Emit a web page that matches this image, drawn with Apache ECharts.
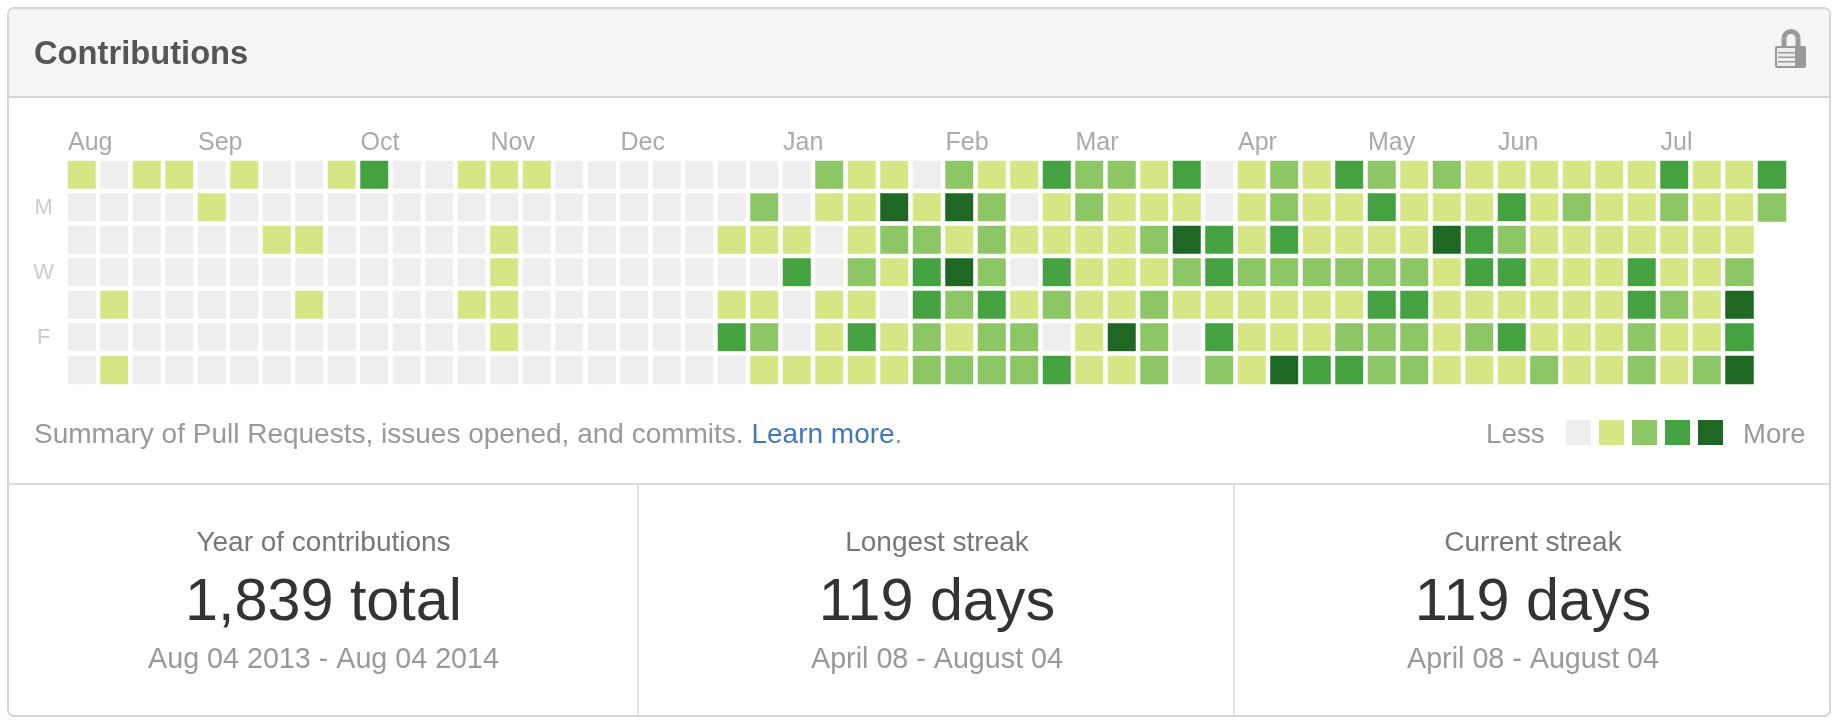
<!DOCTYPE html>
<html>
<head>
<meta charset="utf-8">
<title>Contributions</title>
<script src="https://cdn.jsdelivr.net/npm/echarts@6/dist/echarts.min.js"></script>
<style>
	html, body { margin: 0; background: #fff; }
	#main { width: 1839px; height: 728px; }
</style>
</head>
<body>
<div id="main"></div>
<script type="text/javascript">
// contribution level (0-4), one array per weekday, one entry per week
var sun = [1,0,1,1,0,1,0,0,1,3,0,0,1,1,1,0,0,0,0,0,0,0,0,2,1,1,0,2,1,1,3,2,2,1,3,0,1,2,1,3,2,1,2,1,1,1,1,1,1,3,1,1,3];
var mon = [0,0,0,0,1,0,0,0,0,0,0,0,0,0,0,0,0,0,0,0,0,2,0,1,1,4,1,4,2,0,1,2,1,1,1,0,1,2,1,1,3,1,1,1,3,1,2,1,1,2,1,1,2];
var tue = [0,0,0,0,0,0,1,1,0,0,0,0,0,1,0,0,0,0,0,0,1,1,1,0,1,2,2,1,2,1,1,1,1,2,4,3,1,3,1,1,1,1,4,3,2,1,1,1,1,1,1,1];
var wed = [0,0,0,0,0,0,0,0,0,0,0,0,0,1,0,0,0,0,0,0,0,0,3,0,2,1,3,4,2,0,3,1,1,1,2,3,2,2,2,2,2,2,1,3,3,1,1,1,3,1,1,2];
var thu = [0,1,0,0,0,0,0,1,0,0,0,0,1,1,0,0,0,0,0,0,1,1,0,1,1,0,3,2,3,1,2,1,1,2,1,1,1,1,1,1,3,3,1,1,1,1,1,1,3,2,1,4];
var fri = [0,0,0,0,0,0,0,0,0,0,0,0,0,1,0,0,0,0,0,0,3,2,0,1,3,1,2,1,2,2,0,1,4,2,0,3,1,1,1,2,2,2,1,2,3,1,1,1,2,1,1,3];
var sat = [0,1,0,0,0,0,0,0,0,0,0,0,0,0,0,0,0,0,0,0,0,1,1,1,1,1,2,2,2,2,3,1,1,2,0,2,1,4,3,3,2,2,1,1,1,2,1,1,2,1,2,4];
var weekdays = [sun, mon, tue, wed, thu, fri, sat];

var dayLabels = ['', 'M', '', 'W', '', 'F', ''];
var months = ['Aug','Sep','Oct','Nov','Dec','Jan','Feb','Mar','Apr','May','Jun','Jul'];
var monthWeeks = [0, 4, 9, 13, 17, 22, 27, 31, 36, 40, 44, 49];
var levelColors = ['#eeeeee', '#d6e685', '#8cc665', '#44a340', '#1e6823'];

var statLabels = ['Year of contributions', 'Longest streak', 'Current streak'];
var statValues = ['1,839 total', '119 days', '119 days'];
var statRanges = ['Aug 04 2013 - Aug 04 2014', 'April 08 - August 04', 'April 08 - August 04'];
var statCenters = [323.5, 937, 1533];

var FONT = '"Liberation Sans", Arial, sans-serif';

var weekLabels = [];
for (var w = 0; w < sun.length; w++) {
	var m = monthWeeks.indexOf(w);
	weekLabels.push(m >= 0 ? months[m] : '');
}

var cells = [];
weekdays.forEach(function (row, d) {
	row.forEach(function (level, w) {
		cells.push([w, d, level]);
	});
});

function text(x, y, str, size, color, align, weight) {
	return {
		type: 'text', z: 10,
		style: {
			x: x, y: y, text: str, fill: color,
			font: (weight || 'normal') + ' ' + size + 'px ' + FONT,
			textAlign: align || 'center', textVerticalAlign: 'middle'
		}
	};
}

var graphics = [
	// card
	{ type: 'rect', z: -2, shape: { x: 8, y: 8, width: 1822, height: 708, r: 6 }, style: { fill: '#fff', stroke: '#d5d5d5', lineWidth: 2 } },
	{ type: 'rect', z: -1, shape: { x: 9, y: 9, width: 1820, height: 88, r: [5, 5, 0, 0] }, style: { fill: '#f5f5f5' } },
	{ type: 'line', z: -1, shape: { x1: 8, y1: 97, x2: 1830, y2: 97 }, style: { stroke: '#d5d5d5', lineWidth: 2 } },
	{ type: 'line', z: -1, shape: { x1: 8, y1: 484, x2: 1830, y2: 484 }, style: { stroke: '#dddddd', lineWidth: 2 } },
	{ type: 'line', z: -1, shape: { x1: 638, y1: 484, x2: 638, y2: 716 }, style: { stroke: '#dddddd', lineWidth: 1.5 } },
	{ type: 'line', z: -1, shape: { x1: 1234, y1: 484, x2: 1234, y2: 716 }, style: { stroke: '#dddddd', lineWidth: 1.5 } },
	// lock
	{ type: 'arc', z: 5, shape: { cx: 1791, cy: 38.5, r: 7, startAngle: Math.PI, endAngle: 0, clockwise: true }, style: { fill: 'none', stroke: '#999', lineWidth: 5 } },
	{ type: 'rect', z: 5, shape: { x: 1781.5, y: 38.5, width: 5, height: 9 }, style: { fill: '#999' } },
	{ type: 'rect', z: 5, shape: { x: 1795.5, y: 38.5, width: 5, height: 9 }, style: { fill: '#999' } },
	{ type: 'rect', z: 5, shape: { x: 1775, y: 46, width: 31, height: 22, r: 2 }, style: { fill: '#999' } },
	{ type: 'rect', z: 6, shape: { x: 1777, y: 48, width: 18, height: 18 }, style: { fill: '#eee' } },
	{ type: 'rect', z: 7, shape: { x: 1778, y: 52, width: 17, height: 1.5 }, style: { fill: '#999' } },
	{ type: 'rect', z: 7, shape: { x: 1778, y: 56.5, width: 17, height: 1.5 }, style: { fill: '#999' } },
	{ type: 'rect', z: 7, shape: { x: 1778, y: 61, width: 17, height: 1.5 }, style: { fill: '#999' } },
	text(34, 55, 'Contributions', 32.7, '#555', 'left', 'bold'),
	{
		type: 'text', z: 10,
		style: {
			x: 34, y: 435,
			text: '{a|Summary of Pull Requests, issues opened, and commits. }{b|Learn more}{a|.}',
			textVerticalAlign: 'middle',
			rich: {
				a: { fill: '#999', font: 'normal 28px ' + FONT },
				b: { fill: '#4078c0', font: 'normal 28px ' + FONT }
			}
		}
	},
	// legend ends
	text(1486, 435, 'Less', 27.8, '#999', 'left'),
	text(1743, 435, 'More', 27.5, '#999', 'left')
];

statCenters.forEach(function (cx, i) {
	graphics.push(text(cx, 543, statLabels[i], 28, '#777'));
	graphics.push(text(cx, 604, statValues[i], 59.3, '#333'));
	graphics.push(text(cx, 660, statRanges[i], 28.7, '#999'));
});

var myChart = echarts.init(document.getElementById('main'));

var option = {
	animation: false,
	backgroundColor: '#fff',
	grid: { left: 65.75, top: 158.75, width: 1722.5, height: 227.5, containLabel: false },
	xAxis: {
		type: 'category',
		position: 'top',
		data: weekLabels,
		axisLine: { show: false },
		axisTick: { show: false },
		splitLine: { show: false },
		axisLabel: {
			interval: 0,
			margin: 3,
			hideOverlap: false,
			formatter: function (v) { return v ? '{m|' + v + '}' : ''; },
			rich: { m: { width: 28, align: 'left', color: '#aaa', fontSize: 25, fontFamily: FONT } }
		}
	},
	yAxis: {
		type: 'category',
		inverse: true,
		data: dayLabels,
		axisLine: { show: false },
		axisTick: { show: false },
		splitLine: { show: false },
		axisLabel: { interval: 0, margin: 22, align: 'center', color: '#ccc', fontSize: 22, fontFamily: FONT }
	},
	visualMap: {
		type: 'piecewise',
		orient: 'horizontal',
		seriesIndex: 0,
		dimension: 2,
		left: 1566,
		top: 420,
		padding: 0,
		itemWidth: 25,
		itemHeight: 25,
		itemGap: 8,
		itemSymbol: 'rect',
		showLabel: false,
		selectedMode: false,
		hoverLink: false,
		pieces: levelColors.map(function (c, i) { return { value: i, color: c }; })
	},
	series: [{
		type: 'heatmap',
		data: cells,
		itemStyle: { borderColor: '#fff', borderWidth: 4.5 },
		emphasis: { disabled: true },
		progressive: 0
	}],
	graphic: graphics
};

myChart.setOption(option);
</script>
</body>
</html>
